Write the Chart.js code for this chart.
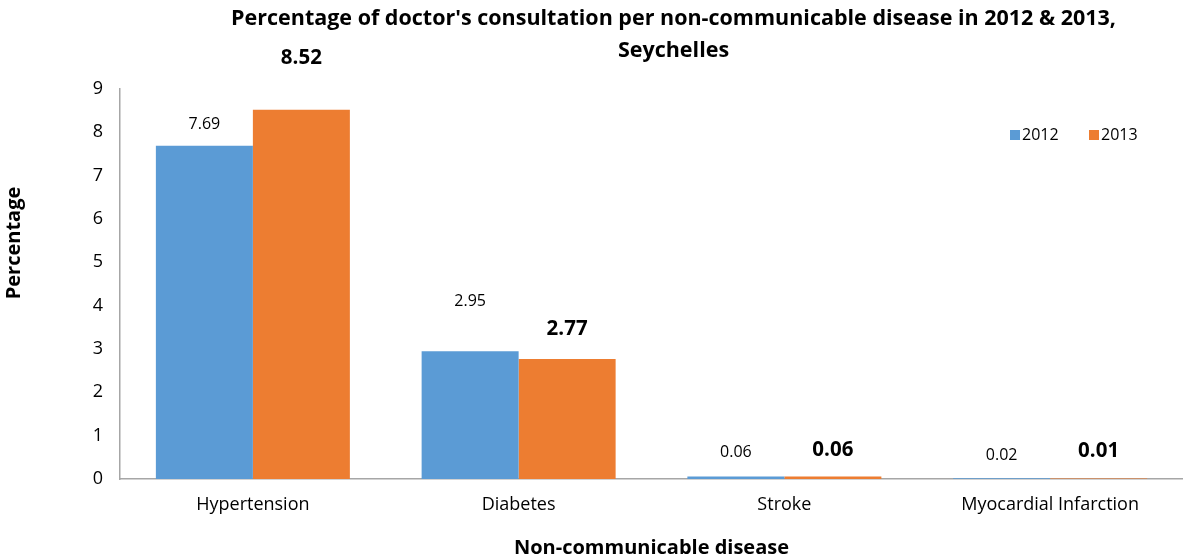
<!DOCTYPE html>
<html>
<head>
<meta charset="utf-8">
<title>Doctor's consultations per NCD, Seychelles</title>
<script src="https://cdn.jsdelivr.net/npm/chart.js@4.4.1/dist/chart.umd.min.js"></script>
<style>
  html, body { margin: 0; padding: 0; background: #fff; }
  #wrap { width: 1183px; height: 560px; position: relative; }
</style>
</head>
<body>
<div id="wrap"><canvas id="ncdChart"></canvas></div>
<script>
// Chart data
const diseases = ['Hypertension', 'Diabetes', 'Stroke', 'Myocardial Infarction'];
const values2012 = [7.69, 2.95, 0.06, 0.02];
const values2013 = [8.52, 2.77, 0.06, 0.01];
const yTicks = [0, 1, 2, 3, 4, 5, 6, 7, 8, 9];

const FONT = '"Open Sans", Lato, sans-serif';
const BLUE = '#5B9BD5';
const ORANGE = '#ED7D31';
const AXIS_GREY = '#A6A6A6';

const titleLines = [
  "Percentage of doctor's consultation per non-communicable disease in 2012 & 2013,",
  'Seychelles'
];

// Title and y-axis caption
const titlePlugin = {
  id: 'chartTexts',
  afterDraw(chart) {
    const { ctx, chartArea } = chart;
    const cx = (chartArea.left + chartArea.right) / 2 + 22;
    ctx.save();
    ctx.font = 'bold 21.5px ' + FONT;
    ctx.fillStyle = '#000';
    ctx.textAlign = 'center';
    ctx.textBaseline = 'middle';
    ctx.fillText(titleLines[0], cx, 19);
    ctx.fillText(titleLines[1], cx, 51);

    ctx.font = 'bold 20px ' + FONT;
    ctx.translate(14, 243);
    ctx.rotate(-Math.PI / 2);
    ctx.fillText('Percentage', 0, 0);
    ctx.restore();
  }
};

// Value labels above the bars (2013 in bold)
const valueLabelPlugin = {
  id: 'valueLabels',
  afterDatasetsDraw(chart) {
    const { ctx } = chart;
    ctx.save();
    ctx.textAlign = 'center';
    ctx.textBaseline = 'middle';
    ctx.fillStyle = '#000';
    chart.data.datasets.forEach((ds, di) => {
      const meta = chart.getDatasetMeta(di);
      ctx.font = ds.labelFont;
      meta.data.forEach((bar, i) => {
        const y = bar.y - ds.labelLift[i];
        ctx.fillText(ds.data[i].toFixed(2), bar.x, y);
      });
    });
    ctx.restore();
  }
};

// Legend inside the plot, top right
const legendPlugin = {
  id: 'insetLegend',
  afterDraw(chart) {
    const { ctx } = chart;
    const items = chart.data.datasets;
    let x = 1010;
    const y = 135;
    ctx.save();
    ctx.font = '16px ' + FONT;
    ctx.textBaseline = 'middle';
    ctx.textAlign = 'left';
    items.forEach(ds => {
      ctx.fillStyle = ds.backgroundColor;
      ctx.fillRect(x, y - 5, 10, 10);
      ctx.fillStyle = '#000';
      ctx.fillText(ds.label, x + 12, y);
      x += 79;
    });
    ctx.restore();
  }
};

new Chart(document.getElementById('ncdChart'), {
  type: 'bar',
  data: {
    labels: diseases,
    datasets: [
      {
        label: '2012',
        data: values2012,
        backgroundColor: BLUE,
        labelFont: '16px ' + FONT,
        labelLift: [21, 50, 24, 23]
      },
      {
        label: '2013',
        data: values2013,
        backgroundColor: ORANGE,
        labelFont: 'bold 20.5px ' + FONT,
        labelLift: [52, 30, 26, 27]
      }
    ]
  },
  options: {
    responsive: true,
    maintainAspectRatio: false,
    animation: false,
    layout: { padding: { top: 89, right: 0, left: 0, bottom: 0 } },
    datasets: {
      bar: { categoryPercentage: 0.73, barPercentage: 1.0, borderWidth: 0 }
    },
    plugins: {
      legend: { display: false },
      title: { display: false },
      tooltip: { enabled: false }
    },
    scales: {
      x: {
        grid: { display: false, drawTicks: false },
        border: { color: AXIS_GREY, width: 1.5 },
        ticks: { color: '#000', font: { family: FONT, size: 18 }, padding: 15 },
        title: {
          display: true,
          text: 'Non-communicable disease',
          color: '#000',
          font: { family: FONT, size: 20, weight: 'bold' },
          padding: { top: 0, bottom: 0 }
        },
        afterFit(scale) { scale.height = 81; }
      },
      y: {
        min: 0,
        max: 9,
        afterBuildTicks(scale) { scale.ticks = yTicks.map(v => ({ value: v })); },
        grid: { display: false, drawTicks: false },
        border: { color: AXIS_GREY, width: 1.5 },
        ticks: { color: '#000', font: { family: FONT, size: 18 }, padding: 17 },
        afterFit(scale) { scale.width = 120; }
      }
    }
  },
  plugins: [titlePlugin, valueLabelPlugin, legendPlugin]
});
</script>
</body>
</html>
